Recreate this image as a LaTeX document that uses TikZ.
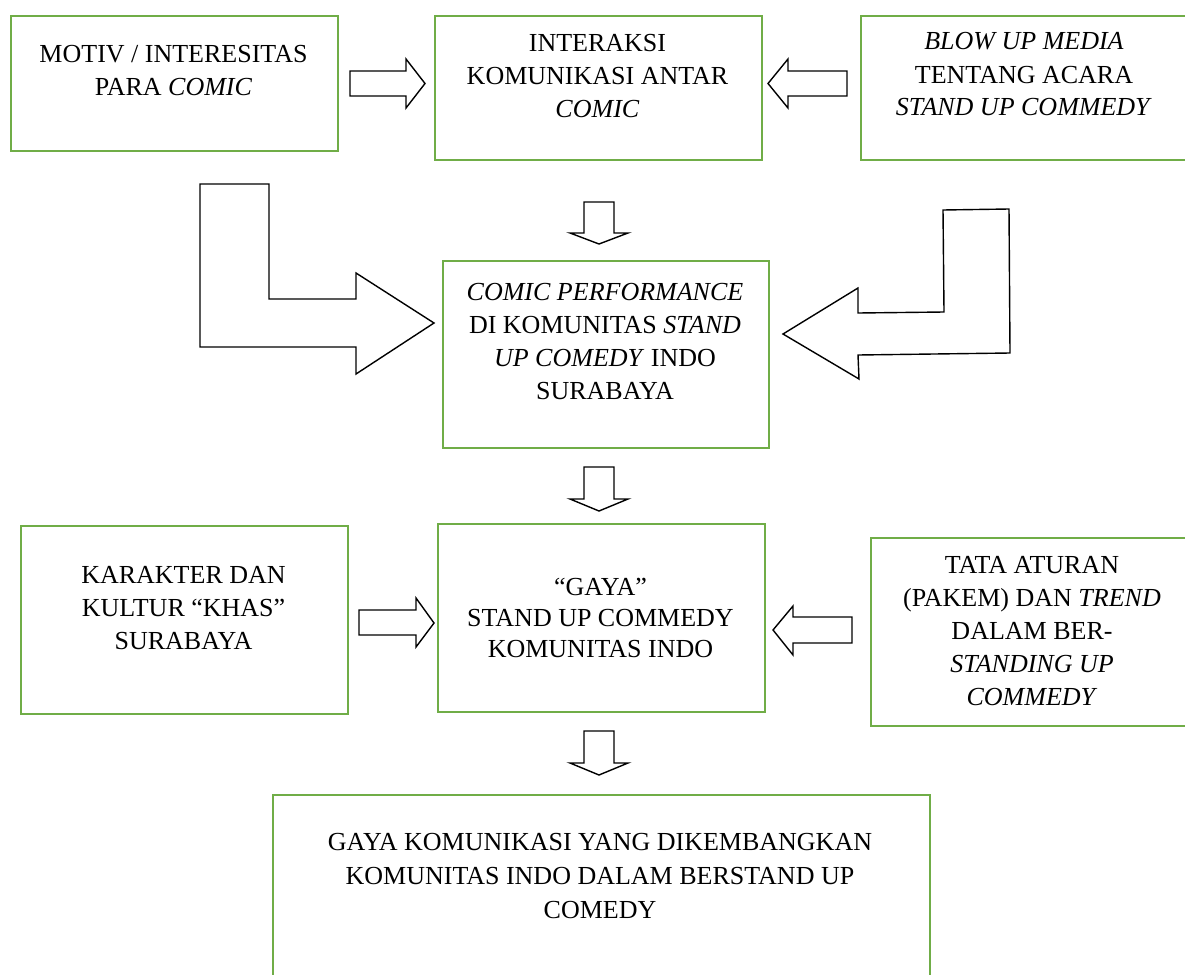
\documentclass[tikz,border=0pt]{standalone}
\usepackage{fontspec}
\setmainfont{Liberation Serif}
\definecolor{boxgreen}{HTML}{70AD47}
\begin{document}
\begin{tikzpicture}[x=1pt,y=-1pt,
  box/.style={draw=boxgreen, line width=2.4pt, inner sep=0pt, anchor=north west},
  txt/.style={anchor=base, inner sep=0pt, font=\fontsize{26}{33}\selectfont},
  blockarrow/.style={draw=black, fill=white, line width=1.4pt, line join=miter}]
\useasboundingbox (0,0) rectangle (1185,974);
\clip (0,0) rectangle (1185,974);
\fill[white] (0,0) rectangle (1185,974);
% boxes
\node[box, minimum width=327pt, minimum height=135pt] (b1) at (10,15) {};
\node[box, minimum width=327pt, minimum height=144pt] (b2) at (434,15) {};
\node[box, minimum width=330pt, minimum height=144pt] (b3) at (860,15) {};
\node[box, minimum width=326pt, minimum height=187pt] (b4) at (442,260) {};
\node[box, minimum width=327pt, minimum height=188pt] (b5) at (437,523) {};
\node[box, minimum width=327pt, minimum height=188pt] (b6) at (20,525) {};
\node[box, minimum width=325pt, minimum height=188pt] (b7) at (870,537) {};
\node[box, minimum width=657pt, minimum height=220pt] (b8) at (272,794) {};
% texts
\node[txt] (t1) at (173.5,63) {\begin{tabular}[t]{@{}c@{}}MOTIV / INTERESITAS\\ PARA \textit{COMIC}\end{tabular}};
\node[txt] (t2) at (597.5,52) {\begin{tabular}[t]{@{}c@{}}INTERAKSI\\ KOMUNIKASI ANTAR\\ \textit{COMIC}\end{tabular}};
\node[txt] (t3) at (1024,50) {\begin{tabular}[t]{@{}c@{}}\textit{BLOW UP MEDIA}\\ TENTANG ACARA\\ \textit{STAND UP COMMEDY}\end{tabular}};
\node[txt] (t4) at (605,300) {\begin{tabular}[t]{@{}c@{}}\textit{COMIC PERFORMANCE}\\ DI KOMUNITAS \textit{STAND}\\ \textit{UP COMEDY} INDO\\ SURABAYA\end{tabular}};
\node[txt, font=\fontsize{26}{31}\selectfont] (t5) at (600.5,595) {\begin{tabular}[t]{@{}c@{}}“GAYA”\\ STAND UP COMMEDY\\ KOMUNITAS INDO\end{tabular}};
\node[txt] (t6) at (183.5,583) {\begin{tabular}[t]{@{}c@{}}KARAKTER DAN\\ KULTUR “KHAS”\\ SURABAYA\end{tabular}};
\node[txt] (t7) at (1032,573) {\begin{tabular}[t]{@{}c@{}}TATA ATURAN\\ (PAKEM) DAN \textit{TREND}\\ DALAM BER-\\ \textit{STANDING UP}\\ \textit{COMMEDY}\end{tabular}};
\node[txt, font=\fontsize{26}{34}\selectfont] (t8) at (600,850) {\begin{tabular}[t]{@{}c@{}}GAYA KOMUNIKASI YANG DIKEMBANGKAN\\ KOMUNITAS INDO DALAM BERSTAND UP\\ COMEDY\end{tabular}};
% block arrows
% box1 -> box2
\draw[blockarrow] (350,71) -- (406,71) -- (406,59) -- (425,83.5) -- (406,108) -- (406,96) -- (350,96) -- cycle;
% box3 -> box2
\draw[blockarrow] (847,71) -- (788,71) -- (788,59) -- (768,83.5) -- (788,108) -- (788,96) -- (847,96) -- cycle;
% box2 -> box4
\draw[blockarrow] (584,202) -- (614,202) -- (614,233) -- (628,233) -- (599,244) -- (570,233) -- (584,233) -- cycle;
% box4 -> box5
\draw[blockarrow] (584,467) -- (614,467) -- (614,499) -- (628,499) -- (599,511) -- (570,499) -- (584,499) -- cycle;
% box5 -> box8
\draw[blockarrow] (584,731) -- (614,731) -- (614,763) -- (628,763) -- (599,775) -- (570,763) -- (584,763) -- cycle;
% box6 -> box5
\draw[blockarrow] (359,610) -- (416,610) -- (416,598) -- (434,623) -- (416,647) -- (416,635) -- (359,635) -- cycle;
% box7 -> box5
\draw[blockarrow] (852,617) -- (793,617) -- (793,606) -- (773,630) -- (793,655) -- (793,643) -- (852,643) -- cycle;
% big L arrow left
\draw[blockarrow] (200,184) -- (269,184) -- (269,299) -- (356,299) -- (356,273) -- (434,323) -- (356,374) -- (356,347) -- (200,347) -- cycle;
% big L arrow right
\draw[blockarrow] (943,210) -- (1009,209) -- (1010,353) -- (858,355) -- (859,379) -- (783,334) -- (858,288) -- (858,313) -- (944,312) -- cycle;
\end{tikzpicture}
\end{document}
